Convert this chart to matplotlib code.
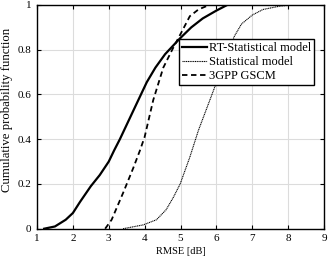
import matplotlib
matplotlib.use("Agg")
import matplotlib.pyplot as plt

plt.rcParams['font.family'] = ['Liberation Serif', 'DejaVu Serif']
plt.rcParams['mathtext.fontset'] = 'stix'

rt_x = [1.2, 1.5, 1.8, 2.0, 2.2, 2.5, 2.75, 3.0, 3.15, 3.31, 3.78, 4.06, 4.3, 4.57, 4.98, 5.3, 5.62, 6.0, 6.3]
rt_y = [0.0, 0.01, 0.04, 0.07, 0.12, 0.19, 0.24, 0.30, 0.35, 0.40, 0.56, 0.655, 0.72, 0.78, 0.85, 0.9, 0.94, 0.975, 1.0]

stat_x = [3.4, 3.96, 4.33, 4.6, 4.8, 4.99, 5.26, 5.5, 5.9, 6.2, 6.5, 6.7, 7.0, 7.3, 7.77, 8.1]
stat_y = [0.0, 0.017, 0.04, 0.085, 0.14, 0.2, 0.32, 0.44, 0.61, 0.74, 0.86, 0.915, 0.955, 0.98, 0.995, 1.0]

gscm_x = [2.9, 3.08, 3.4, 3.68, 3.87, 4.0, 4.24, 4.52, 4.8, 5.0, 5.26, 5.5, 5.8]
gscm_y = [0.0, 0.04, 0.16, 0.27, 0.35, 0.41, 0.575, 0.72, 0.81, 0.87, 0.95, 0.98, 1.0]

xticks = [1, 2, 3, 4, 5, 6, 7, 8, 9]
yticks = [0, 0.2, 0.4, 0.6, 0.8, 1]
ytick_labels = ['0', '0.2', '0.4', '0.6', '0.8', '1']

fig = plt.figure(figsize=(3.32, 2.63), dpi=100)
ax = fig.add_axes([0.1114, 0.1304, 0.8646, 0.8506])

ax.plot(rt_x, rt_y, color='black', lw=1.6, ls='-', label='RT-Statistical model')
ax.plot(stat_x, stat_y, color='black', lw=0.8, ls=(0, (1, 0.6)), label='Statistical model')
ax.plot(gscm_x, gscm_y, color='black', lw=1.3, ls=(0, (3, 2)), label='3GPP GSCM')

ax.set_xlim(1, 9)
ax.set_ylim(0, 1)
ax.set_xticks(xticks)
ax.set_yticks(yticks)
ax.set_yticklabels(ytick_labels)
ax.grid(True, color='#dcdcdc', lw=0.8)
ax.set_axisbelow(True)
ax.tick_params(direction='in', length=3, width=0.8, top=True, right=True, labelsize=8, pad=4)
for s in ax.spines.values():
    s.set_linewidth(1.0)

ax.set_xlabel('RMSE [dB]', fontsize=7.5, labelpad=3)
ax.set_ylabel('Cumulative probability function', fontsize=9.2)
ax.yaxis.set_label_coords(-0.082, 0.53)

leg = ax.legend(loc='upper left', bbox_to_anchor=(179 / 332, 1 - 39 / 263),
                bbox_transform=fig.transFigure, fontsize=9,
                frameon=True, fancybox=False, edgecolor='black', framealpha=1,
                handlelength=2.0, handletextpad=0.15, borderpad=0.25, labelspacing=0.15,
                borderaxespad=0)
leg.get_frame().set_linewidth(1.0)

fig.savefig('out.png', dpi=100)
